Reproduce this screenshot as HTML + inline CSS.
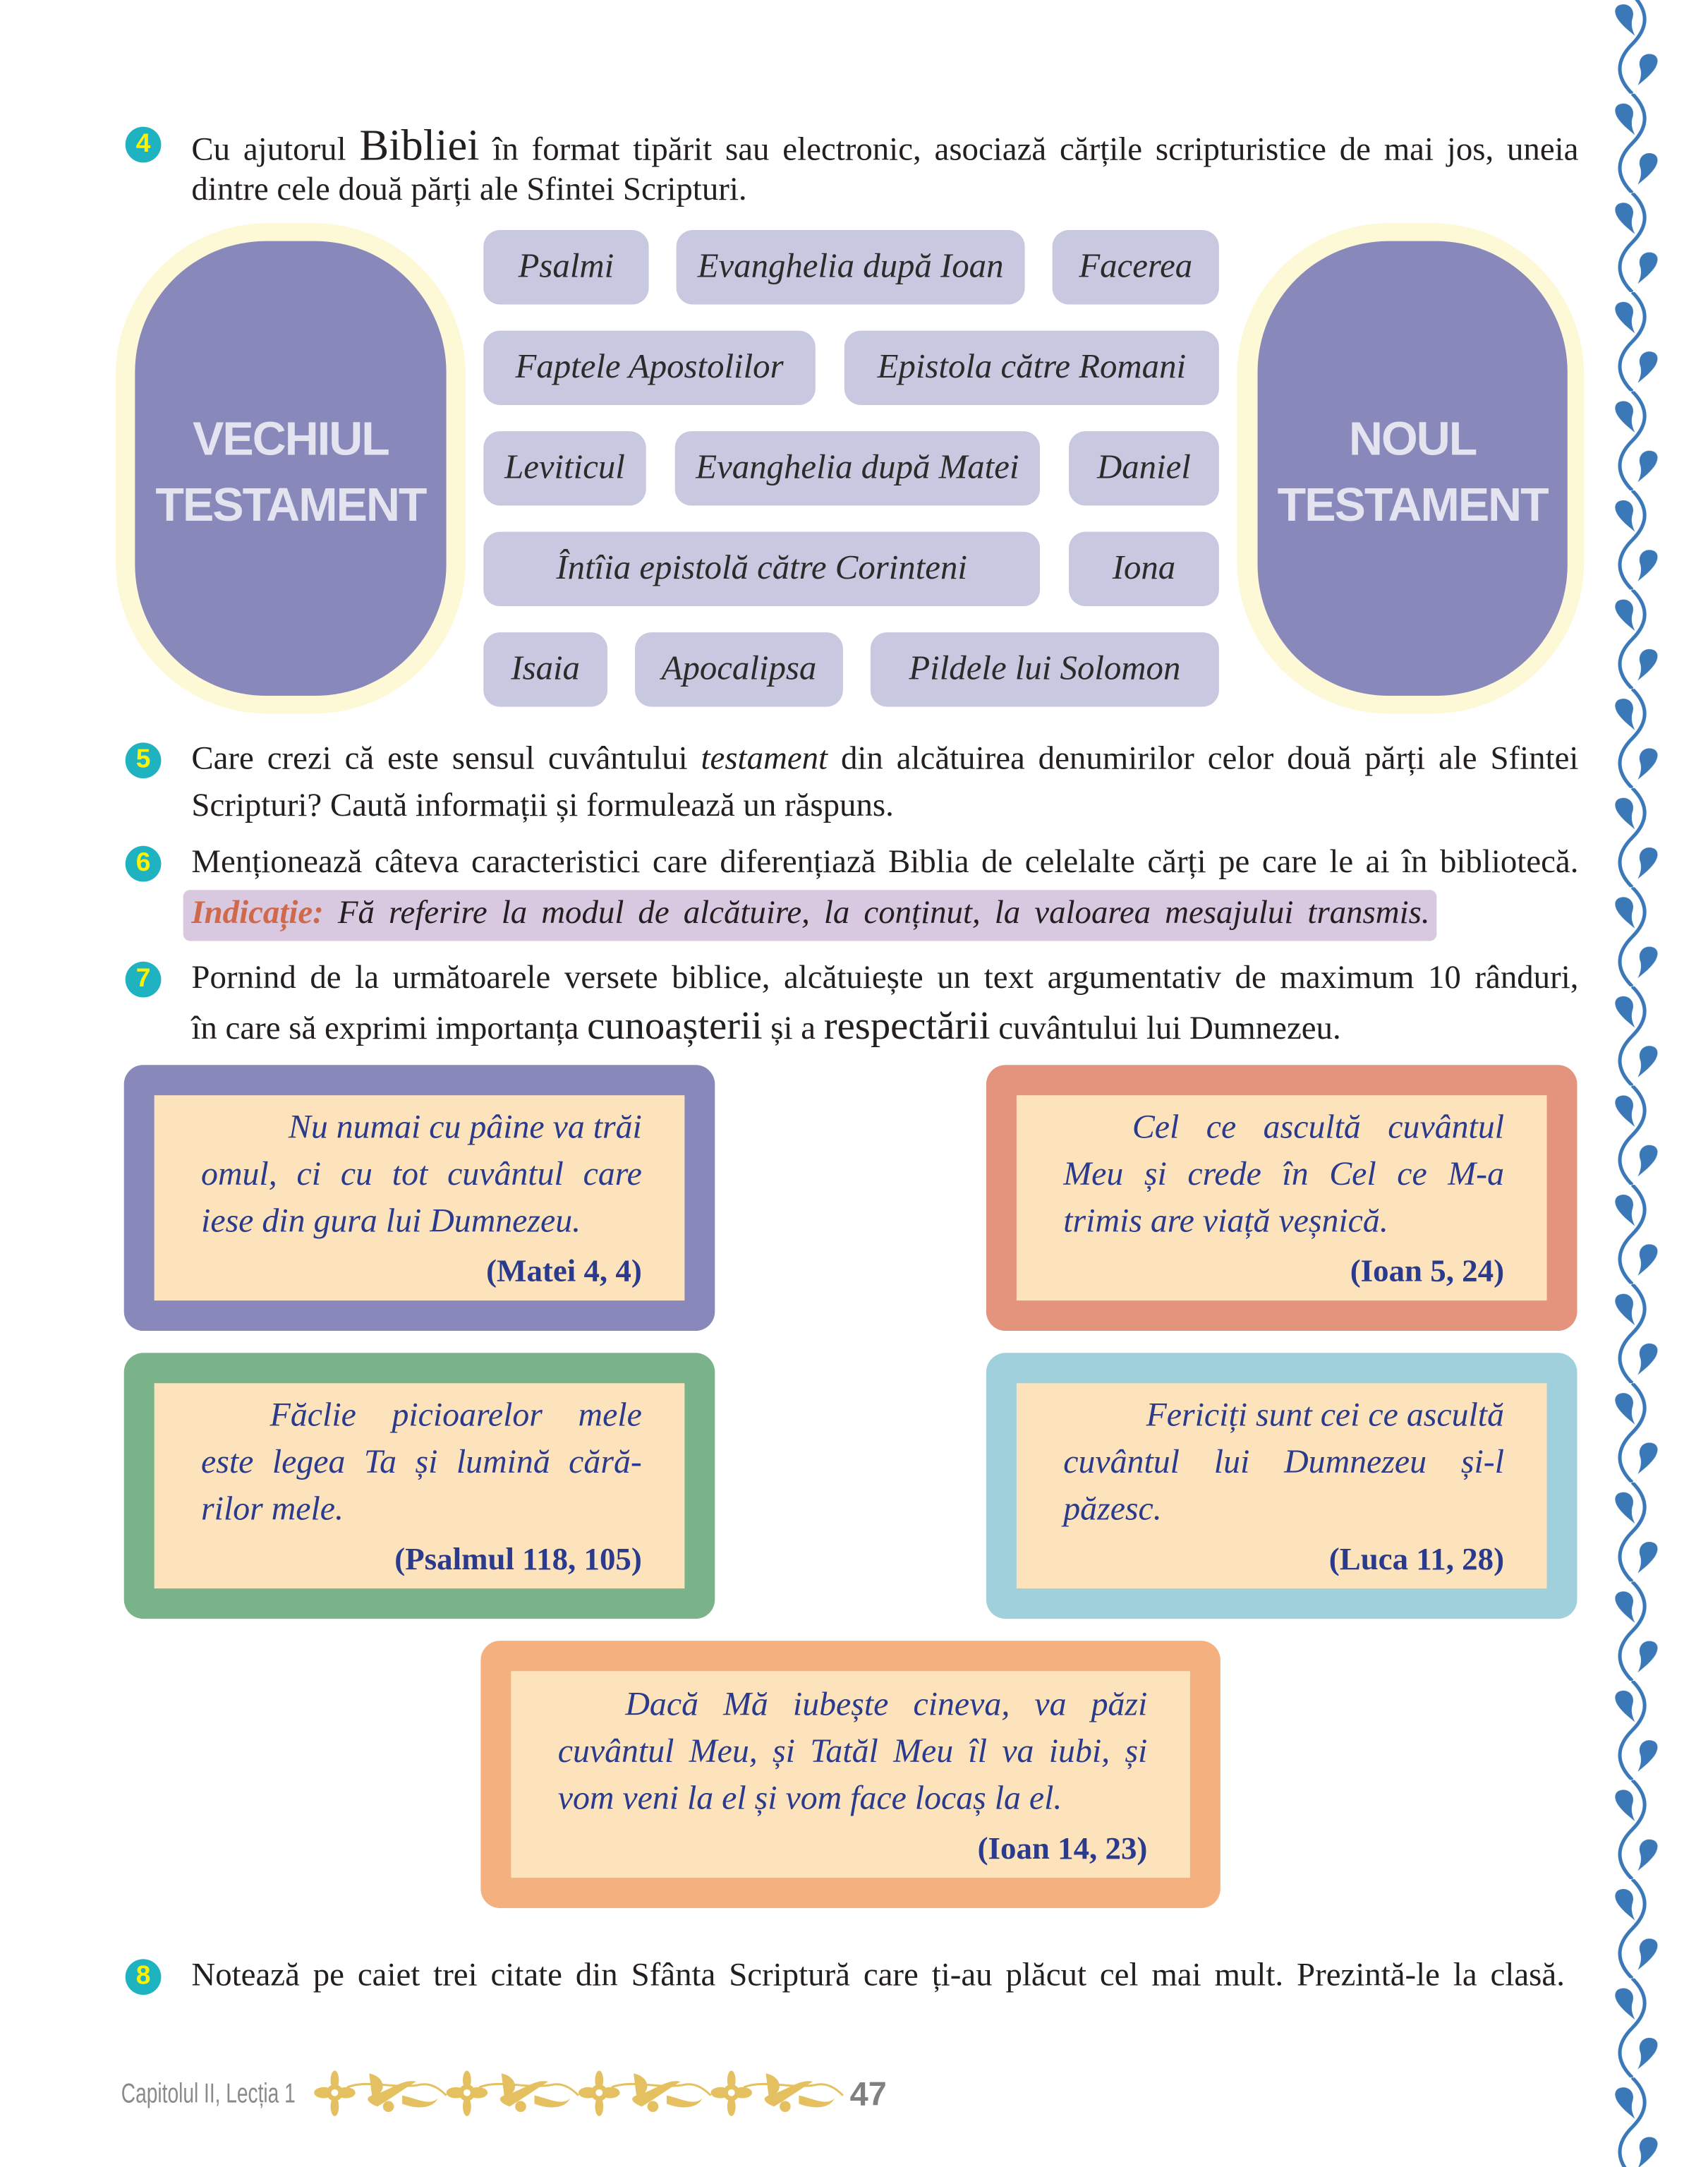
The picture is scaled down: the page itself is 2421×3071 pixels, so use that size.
<!DOCTYPE html>
<html><head><meta charset="utf-8">
<style>
html,body{margin:0;padding:0;background:#fff;}
body{width:2421px;height:3071px;overflow:hidden;position:relative;}
#w{position:absolute;left:0;top:0;width:1240px;height:1573px;transform:scale(1.9524);transform-origin:0 0;}
.l{position:absolute;white-space:nowrap;font-family:"Liberation Serif",serif;font-size:24px;line-height:1;color:#231f20;}
.j{text-align:justify;text-align-last:justify;}
.b{position:absolute;width:26px;height:26px;border-radius:50%;background:#1fb3c1;color:#fff200;font-family:"Liberation Sans",sans-serif;font-weight:bold;font-size:19px;line-height:26px;text-align:center;}
.pill{position:absolute;height:54px;background:#c8c8e0;border-radius:12px;font-family:"Liberation Serif",serif;font-style:italic;font-size:25px;color:#2b2b2b;line-height:54px;text-align:center;white-space:nowrap;}
.big{position:absolute;border-radius:110px;}
.bt{position:absolute;width:100%;text-align:center;font-family:"Liberation Sans",sans-serif;font-weight:bold;font-size:34px;color:#e4e4f0;line-height:48px;letter-spacing:-1px;}
.qo{position:absolute;border-radius:14px;}
.qi{position:absolute;background:#fde3bb;}
.q{position:absolute;white-space:nowrap;font-family:"Liberation Serif",serif;font-style:italic;font-size:24.5px;line-height:1;color:#2a3a8c;}
.r{position:absolute;white-space:nowrap;font-family:"Liberation Serif",serif;font-weight:bold;font-size:23px;line-height:1;color:#2a3a8c;text-align:right;}
</style></head><body><div id="w">

<!-- vine -->
<svg style="position:absolute;left:1163px;top:0" width="50" height="1573">
<defs><pattern id="v" x="0" y="-4" width="50" height="72" patternUnits="userSpaceOnUse">
<path d="M22,0 C34,12 34,24 22,36 C10,48 10,60 22,72" fill="none" stroke="#3a78b8" stroke-width="2.6"/>
<path d="M12,8 C18,5 25,10 22,18 C21,22 22,26 24,30 C19,26 14,22 11,17 C9,13 9,10 12,8Z" fill="#3a78b8"/>
<path d="M38,44 C32,41 25,46 28,54 C29,58 28,62 26,66 C31,62 36,58 39,53 C41,49 41,46 38,44Z" fill="#3a78b8"/>
</pattern></defs>
<rect x="0" y="0" width="50" height="1573" fill="url(#v)"/>
</svg>

<!-- Q4 -->
<div class="b" style="left:91px;top:92px">4</div>
<div class="l j" style="left:139px;top:89px;width:1007px">Cu ajutorul <span style="font-size:32px">Bibliei</span> în format tipărit sau electronic, asociază cărțile scripturistice de mai jos, uneia</div>
<div class="l" style="left:139px;top:126px">dintre cele două părți ale Sfintei Scripturi.</div>

<div class="big" style="left:84px;top:162px;width:254px;height:356px;background:#fdf9d6;"></div>
<div class="big" style="left:98px;top:175px;width:226px;height:330px;background:#8888bb;border-radius:95px;">
 <div class="bt" style="top:120px">VECHIUL<br>TESTAMENT</div></div>
<div class="big" style="left:898px;top:162px;width:252px;height:356px;background:#fdf9d6;"></div>
<div class="big" style="left:913px;top:175px;width:225px;height:330px;background:#8888bb;border-radius:95px;">
 <div class="bt" style="top:120px">NOUL<br>TESTAMENT</div></div>

<div class="pill" style="left:351px;top:167px;width:120px">Psalmi</div>
<div class="pill" style="left:491px;top:167px;width:253px">Evanghelia după Ioan</div>
<div class="pill" style="left:764px;top:167px;width:121px">Facerea</div>
<div class="pill" style="left:351px;top:240px;width:241px">Faptele Apostolilor</div>
<div class="pill" style="left:613px;top:240px;width:272px">Epistola către Romani</div>
<div class="pill" style="left:351px;top:313px;width:118px">Leviticul</div>
<div class="pill" style="left:490px;top:313px;width:265px">Evanghelia după Matei</div>
<div class="pill" style="left:776px;top:313px;width:109px">Daniel</div>
<div class="pill" style="left:351px;top:386px;width:404px">Întîia epistolă către Corinteni</div>
<div class="pill" style="left:776px;top:386px;width:109px">Iona</div>
<div class="pill" style="left:351px;top:459px;width:90px">Isaia</div>
<div class="pill" style="left:461px;top:459px;width:151px">Apocalipsa</div>
<div class="pill" style="left:632px;top:459px;width:253px">Pildele lui Solomon</div>

<!-- Q5 -->
<div class="b" style="left:91px;top:539px">5</div>
<div class="l j" style="left:139px;top:539px;width:1007px">Care crezi că este sensul cuvântului <i>testament</i> din alcătuirea denumirilor celor două părți ale Sfintei</div>
<div class="l" style="left:139px;top:573px">Scripturi? Caută informații și formulează un răspuns.</div>

<!-- Q6 -->
<div class="b" style="left:91px;top:614px">6</div>
<div class="l j" style="left:139px;top:614px;width:1007px">Menționează câteva caracteristici care diferențiază Biblia de celelalte cărți pe care le ai în bibliotecă.</div>
<div style="position:absolute;left:133px;top:646px;width:910px;height:37px;background:#d8c8e0;border-radius:5px;"></div>
<div class="l j" style="left:139px;top:651px;width:899px;font-style:italic;"><span style="color:#d0684a;font-weight:bold">Indicație:</span> Fă referire la modul de alcătuire, la conținut, la valoarea mesajului transmis.</div>

<!-- Q7 -->
<div class="b" style="left:91px;top:698px">7</div>
<div class="l j" style="left:139px;top:698px;width:1007px">Pornind de la următoarele versete biblice, alcătuiește un text argumentativ de maximum 10 rânduri,</div>
<div class="l" style="left:139px;top:731px">în care să exprimi importanța <span style="font-size:29px">cunoașterii</span> și a <span style="font-size:29px">respectării</span> cuvântului lui Dumnezeu.</div>

<!-- Quote A -->
<div class="qo" style="left:90px;top:773px;width:429px;height:193px;background:#8888bb"></div>
<div class="qi" style="left:112px;top:795px;width:385px;height:149px"></div>
<div class="q" style="left:146px;top:807px;width:320px;text-align:right">Nu numai cu pâine va trăi</div>
<div class="q j" style="left:146px;top:841px;width:320px">omul, ci cu tot cuvântul care</div>
<div class="q" style="left:146px;top:875px">iese din gura lui Dumnezeu.</div>
<div class="r" style="left:146px;top:911px;width:320px">(Matei 4, 4)</div>

<!-- Quote B -->
<div class="qo" style="left:716px;top:773px;width:429px;height:193px;background:#e4937c"></div>
<div class="qi" style="left:738px;top:795px;width:385px;height:149px"></div>
<div class="q j" style="left:822px;top:807px;width:270px">Cel ce ascultă cuvântul</div>
<div class="q j" style="left:772px;top:841px;width:320px">Meu și crede în Cel ce M-a</div>
<div class="q" style="left:772px;top:875px">trimis are viață veșnică.</div>
<div class="r" style="left:772px;top:911px;width:320px">(Ioan 5, 24)</div>

<!-- Quote C -->
<div class="qo" style="left:90px;top:982px;width:429px;height:193px;background:#7ab38a"></div>
<div class="qi" style="left:112px;top:1004px;width:385px;height:149px"></div>
<div class="q j" style="left:196px;top:1016px;width:270px">Făclie picioarelor mele</div>
<div class="q j" style="left:146px;top:1050px;width:320px">este legea Ta și lumină cără-</div>
<div class="q" style="left:146px;top:1084px">rilor mele.</div>
<div class="r" style="left:146px;top:1120px;width:320px">(Psalmul 118, 105)</div>

<!-- Quote D -->
<div class="qo" style="left:716px;top:982px;width:429px;height:193px;background:#a0d0dc"></div>
<div class="qi" style="left:738px;top:1004px;width:385px;height:149px"></div>
<div class="q" style="left:772px;top:1016px;width:320px;text-align:right">Fericiți sunt cei ce ascultă</div>
<div class="q j" style="left:772px;top:1050px;width:320px">cuvântul lui Dumnezeu și-l</div>
<div class="q" style="left:772px;top:1084px">păzesc.</div>
<div class="r" style="left:772px;top:1120px;width:320px">(Luca 11, 28)</div>

<!-- Quote E -->
<div class="qo" style="left:349px;top:1191px;width:537px;height:194px;background:#f5b07f"></div>
<div class="qi" style="left:371px;top:1213px;width:493px;height:150px"></div>
<div class="q j" style="left:454px;top:1226px;width:379px">Dacă Mă iubește cineva, va păzi</div>
<div class="q j" style="left:405px;top:1260px;width:428px">cuvântul Meu, și Tatăl Meu îl va iubi, și</div>
<div class="q" style="left:405px;top:1294px">vom veni la el și vom face locaș la el.</div>
<div class="r" style="left:405px;top:1330px;width:428px">(Ioan 14, 23)</div>

<!-- Q8 -->
<div class="b" style="left:91px;top:1422px">8</div>
<div class="l j" style="left:139px;top:1422px;width:997px">Notează pe caiet trei citate din Sfânta Scriptură care ți-au plăcut cel mai mult. Prezintă-le la clasă.</div>

<!-- footer -->
<div style="position:absolute;left:88px;top:1510px;font-family:'Liberation Sans',sans-serif;font-size:20px;color:#8a8a8a;white-space:nowrap;transform:scaleX(0.72);transform-origin:0 0;line-height:1">Capitolul II, Lecția 1</div>
<svg style="position:absolute;left:228px;top:1503px" width="390" height="36">
<g fill="#e4c060">
<g id="f"><circle cx="15" cy="16" r="6"/><ellipse cx="15" cy="7" rx="3" ry="7"/><ellipse cx="15" cy="26" rx="3" ry="7"/><ellipse cx="7" cy="16" rx="7" ry="4"/><ellipse cx="23" cy="16" rx="7" ry="4"/><circle cx="15" cy="16" r="2.5" fill="#fff"/>
<path d="M40,2 C50,4 52,12 48,16 C58,12 66,6 74,8 C64,14 56,20 46,26 C40,24 36,20 42,18Z"/><circle cx="54" cy="26" r="4"/><path d="M24,12 C40,6 60,14 78,10 C86,9 92,14 96,18" stroke="#e4c060" stroke-width="1.5" fill="none"/>
<path d="M64,18 C74,20 84,26 90,20 C86,28 74,28 64,24Z"/></g>
<use href="#f" x="96"/><use href="#f" x="192"/><use href="#f" x="288"/>
</g></svg>
<div style="position:absolute;left:617px;top:1509px;font-family:'Liberation Sans',sans-serif;font-weight:bold;font-size:24px;color:#808080;line-height:1">47</div>

</div></body></html>
